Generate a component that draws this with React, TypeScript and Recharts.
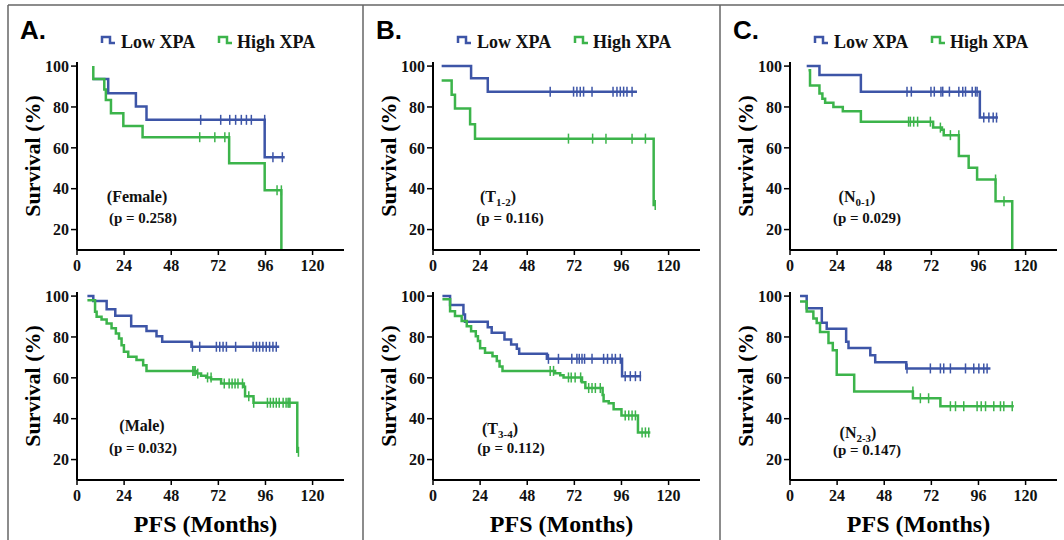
import { ComposedChart, Line, Scatter, XAxis, YAxis } from 'recharts'

const BLUE = '#3d55a7'
const GREEN = '#3cb44b'
const SERIF = "'Liberation Serif', 'Times New Roman', serif"
const SANS = "'Liberation Sans', Arial, sans-serif"

const monthTicks = [0, 24, 48, 72, 96, 120]
const pctTicks = [20, 40, 60, 80, 100]

// A. female
const femaleLowTime = [8.0, 15.9, 30.0, 35.4, 95.6, 105.8]
const femaleLowSurv = [93.7, 86.7, 80.2, 73.7, 55.4, 55.4]
const femaleLowCens = [63, 73.2, 77.8, 80.8, 83.7, 86.3, 88.8, 95.6, 99.8, 104.6]
const femaleHighTime = [8.3, 8.3, 13.9, 14.7, 17.3, 23.6, 33.4, 77.5, 95.6, 104.1]
const femaleHighSurv = [100, 93.7, 88.6, 83.4, 76.9, 70.7, 65.2, 52.5, 39.2, 0]
const femaleHighCens = [62.5, 70.2, 75.3, 77.5, 101.9, 104.1]

// A. male
const maleLowTime = [5.3, 8.3, 15.1, 19.5, 27.6, 35.4, 40.5, 43.4, 58.3, 103]
const maleLowSurv = [100, 97.6, 93.5, 90.4, 85.3, 82.9, 80.4, 77.6, 75.2, 75.2]
const maleLowCens = [58.8, 62.5, 71, 72.7, 74.4, 76.1, 80.8, 89.7, 91.4, 93, 94.7, 96.4, 98.1, 99.8, 101.5]
const maleHighTime = [5.3, 9.2, 10, 12.5, 15.1, 17.6, 19.8, 21.4, 22.7, 23.9, 26.1, 30.3, 33.7, 35.4, 60.6, 63.2, 65.8, 68.3, 73.4, 85, 85.6, 89.9, 112.2, 113]
const maleHighSurv = [98, 92.3, 89.9, 88.6, 86.6, 84.2, 81.7, 79.3, 76, 72.7, 70.3, 68.7, 66.2, 63.4, 62.1, 61, 60.2, 59.3, 57.2, 55.6, 51, 47.8, 23.8, 23.8]
const maleHighCens = [59, 59.6, 60.2, 61.5, 66.5, 68.3, 75, 77.5, 79, 80.5, 82, 84.3, 87.5, 90, 97, 98.5, 100, 101.5, 103, 105, 106.5, 107.5, 108, 108.5, 112.8]

// B. T1-2
const t12LowTime = [4.4, 19.4, 27.9, 103.9]
const t12LowSurv = [100, 94, 87.5, 87.5]
const t12LowCens = [59.7, 71.6, 73.3, 75, 76.7, 81, 91.7, 93.7, 95.4, 97.1, 98.8, 101.4]
const t12HighTime = [4.4, 9.5, 11.2, 18.9, 21.4, 112.4, 113.2]
const t12HighSurv = [93, 86, 79.3, 71.5, 64.5, 32, 32]
const t12HighCens = [69, 81.3, 88.1, 101.4, 108.2, 113.2]

// B. T3-4
const t34LowTime = [4.8, 8.7, 15.5, 16.3, 27.9, 29.9, 36.4, 39.8, 42.7, 43.9, 58, 96.3, 106]
const t34LowSurv = [100, 95.6, 91, 87.5, 84.7, 82, 78.7, 76.3, 74.2, 71.8, 69.3, 60.8, 60.8]
const t34LowCens = [58.8, 63.9, 70.7, 73.3, 74.5, 75.9, 77.2, 81, 86.9, 88.9, 91.2, 92.9, 95.4, 97.9, 100.5, 103.1, 105.6]
const t34HighTime = [4.8, 8.7, 11.2, 14.6, 17.2, 19.4, 21.8, 22.9, 24, 26.5, 30.3, 32.5, 33.9, 35.4, 62.2, 64.8, 66.5, 75.9, 77.6, 86.4, 86.9, 89.5, 92, 96, 104.4, 110.7]
const t34HighSurv = [98.4, 92.6, 90.3, 87.8, 85.3, 82.8, 80.4, 78, 74.5, 72.3, 70.6, 68.2, 65.5, 63.4, 62.2, 61.2, 60.2, 57.8, 55, 51.6, 48.5, 47.5, 44.6, 41.6, 33.3, 33.3]
const t34HighCens = [59.7, 61.4, 69, 70.4, 72.4, 75.2, 79.3, 81, 82.7, 85.2, 97.9, 99.7, 101.4, 103.1, 106.5, 108.2, 109.9]

// C. N0-1
const n01LowTime = [8.5, 15, 36.1, 96.7, 105.9]
const n01LowSurv = [100, 95.6, 87.5, 74.8, 74.8]
const n01LowCens = [59.6, 61.8, 71.8, 73.5, 76.9, 77.8, 81.2, 86, 88, 89.4, 92.8, 94.5, 95.3, 98.7, 101.3, 103.5, 105.2]
const n01HighTime = [9.4, 10.2, 15, 16.5, 17.9, 22.1, 26.9, 36.1, 72.9, 77.4, 78.3, 86, 91, 95.3, 104.7, 113.2]
const n01HighSurv = [98, 90.5, 86.6, 84, 82, 80, 77.9, 72.8, 69.9, 68.8, 66.2, 56, 50.3, 44.5, 33.8, 0]
const n01HighCens = [60.4, 61.3, 63, 65, 71.5, 76.6, 81.7, 86, 104.7, 109]

// C. N2-3
const n23LowTime = [5.1, 8.5, 16.2, 18.7, 28.6, 29.8, 40.9, 43.4, 59.2, 102.1]
const n23LowSurv = [100, 94, 87, 84, 77.6, 74.6, 71, 67.6, 64.6, 64.6]
const n23LowCens = [59.6, 71.5, 76.6, 78.3, 81.7, 89.4, 93.6, 96.2, 98.7, 100.4]
const n23HighTime = [5.1, 8.5, 11.9, 13.6, 15.3, 19.6, 21.8, 23.8, 32.7, 62.6, 76.6, 114]
const n23HighSurv = [97.3, 92.5, 89, 86.8, 82.4, 77, 73.5, 61.5, 53.3, 50, 46.1, 46.1]
const n23HighCens = [62.6, 66.4, 70.6, 81.7, 84.3, 88.5, 95.3, 97.4, 99.6, 103.8, 107.2, 108.9, 113.2]

const steps = (t: number[], s: number[]) => t.map((x, i) => ({ t: x, s: s[i] }))

// place each censor tick on the curve level just before its time
const censored = (c: number[], t: number[], s: number[]) =>
  c.map(x => {
    let v = s[0]
    for (let i = 0; i < t.length; i++) if (t[i] < x) v = s[i]
    return { t: x, s: v }
  })

const tickShape = (color: string) => (props: any) => (
  <line x1={props.cx} x2={props.cx} y1={props.cy - 5} y2={props.cy + 5} stroke={color} strokeWidth={1.5} />
)

const panels = [
  { left: 0, top: 50, bottom: false, low: [femaleLowTime, femaleLowSurv, femaleLowCens], high: [femaleHighTime, femaleHighSurv, femaleHighCens] },
  { left: 0, top: 280, bottom: true, low: [maleLowTime, maleLowSurv, maleLowCens], high: [maleHighTime, maleHighSurv, maleHighCens] },
  { left: 356, top: 50, bottom: false, low: [t12LowTime, t12LowSurv, t12LowCens], high: [t12HighTime, t12HighSurv, t12HighCens] },
  { left: 356, top: 280, bottom: true, low: [t34LowTime, t34LowSurv, t34LowCens], high: [t34HighTime, t34HighSurv, t34HighCens] },
  { left: 713, top: 50, bottom: false, low: [n01LowTime, n01LowSurv, n01LowCens], high: [n01HighTime, n01HighSurv, n01HighCens] },
  { left: 713, top: 280, bottom: true, low: [n23LowTime, n23LowSurv, n23LowCens], high: [n23HighTime, n23HighSurv, n23HighCens] },
]

const tickStyle = { fill: '#111', fontSize: 16, fontWeight: 700, fontFamily: SERIF }

function KMPanel({ p }: { p: any }) {
  const [lt, ls, lc] = p.low
  const [ht, hs, hc] = p.high
  return (
    <div style={{ position: 'absolute', left: p.left, top: p.top }}>
      <ComposedChart width={355} height={p.bottom ? 260 : 230} margin={{ top: 12, right: 11, left: 0, bottom: 0 }}>
        <XAxis
          dataKey="t"
          type="number"
          domain={[0, 136]}
          ticks={monthTicks}
          allowDataOverflow
          height={p.bottom ? 60 : 30}
          axisLine={{ stroke: '#000', strokeWidth: 2 }}
          tickLine={{ stroke: '#000', strokeWidth: 1.5 }}
          tickSize={5}
          tickMargin={5}
          tick={tickStyle}
          label={p.bottom ? { value: 'PFS (Months)', position: 'insideBottom', offset: 8, dx: -5, fill: '#000', fontSize: 24, fontWeight: 700, fontFamily: SERIF } : undefined}
        />
        <YAxis
          dataKey="s"
          type="number"
          domain={[10, 102]}
          ticks={pctTicks}
          allowDataOverflow
          width={77}
          axisLine={{ stroke: '#000', strokeWidth: 2 }}
          tickLine={{ stroke: '#000', strokeWidth: 1.5 }}
          tickSize={6}
          tickMargin={2}
          tick={tickStyle}
          label={{ value: 'Survival (%)', angle: -90, position: 'center', dx: -6, fill: '#000', fontSize: 22, fontWeight: 700, fontFamily: SERIF }}
        />
        <Line data={steps(lt, ls)} dataKey="s" type="stepAfter" stroke={BLUE} strokeWidth={2.5} dot={false} isAnimationActive={false} />
        <Line data={steps(ht, hs)} dataKey="s" type="stepAfter" stroke={GREEN} strokeWidth={2.5} dot={false} isAnimationActive={false} />
        <Scatter data={censored(lc, lt, ls)} dataKey="s" shape={tickShape(BLUE)} isAnimationActive={false} />
        <Scatter data={censored(hc, ht, hs)} dataKey="s" shape={tickShape(GREEN)} isAnimationActive={false} />
      </ComposedChart>
    </div>
  )
}

const plotLefts = [77, 433, 790]
const letters = ['A.', 'B.', 'C.']

// subgroup annotations: [label, subscript, p]
const notes = [
  { x: 137, y: 202, px: 143, py: 223, name: '(Female)', sub: '', p: '(p = 0.258)' },
  { x: 142, y: 431, px: 143, py: 453, name: '(Male)', sub: '', p: '(p = 0.032)' },
  { x: 498, y: 202, px: 510, py: 223, name: 'T', sub: '1-2', p: '(p = 0.116)' },
  { x: 500, y: 434, px: 511, py: 453, name: 'T', sub: '3-4', p: '(p = 0.112)' },
  { x: 857, y: 202, px: 867, py: 223, name: 'N', sub: '0-1', p: '(p = 0.029)' },
  { x: 858, y: 438, px: 867, py: 455, name: 'N', sub: '2-3', p: '(p = 0.147)' },
]

const stepIcon = (x: number, y: number, color: string) => (
  <path d={`M${x},${y + 6} L${x},${y} L${x + 8},${y} L${x + 8},${y + 6} L${x + 13},${y + 6}`} fill="none" stroke={color} strokeWidth={2.5} />
)

export default function App() {
  return (
    <div style={{ position: 'absolute', left: 0, top: 0, width: 1064, height: 540, background: '#fff', fontFamily: SERIF }}>
      {panels.map((p, i) => (
        <KMPanel key={i} p={p} />
      ))}
      <svg width={1064} height={540} style={{ position: 'absolute', left: 0, top: 0, pointerEvents: 'none' }}>
        <line x1={8} x2={1064} y1={5} y2={5} stroke="#666" strokeWidth={1.5} />
        <line x1={8} x2={8} y1={5} y2={540} stroke="#666" strokeWidth={1.5} />
        <line x1={363} x2={363} y1={5} y2={540} stroke="#666" strokeWidth={1.5} />
        <line x1={720} x2={720} y1={5} y2={540} stroke="#666" strokeWidth={1.5} />
        {plotLefts.map((x0, i) => (
          <g key={i}>
            <text x={x0 - 57} y={39} fontFamily={SANS} fontWeight={700} fontSize={26} fill="#000">
              {letters[i]}
            </text>
            {stepIcon(x0 + 25, 37, BLUE)}
            <text x={x0 + 44} y={48} fontFamily={SERIF} fontWeight={700} fontSize={18} fill="#111">Low XPA</text>
            {stepIcon(x0 + 142, 37, GREEN)}
            <text x={x0 + 160} y={48} fontFamily={SERIF} fontWeight={700} fontSize={18} fill="#111">High XPA</text>
          </g>
        ))}
        {notes.map((n, i) => (
          <g key={i} fontFamily={SERIF} fontWeight={700} fill="#111" textAnchor="middle">
            {n.sub ? (
              <text x={n.x} y={n.y} fontSize={16}>
                ({n.name}
                <tspan fontSize={11} dy={4}>{n.sub}</tspan>
                <tspan dy={-4}>)</tspan>
              </text>
            ) : (
              <text x={n.x} y={n.y} fontSize={16}>{n.name}</text>
            )}
            <text x={n.px} y={n.py} fontSize={15}>{n.p}</text>
          </g>
        ))}
      </svg>
    </div>
  )
}
